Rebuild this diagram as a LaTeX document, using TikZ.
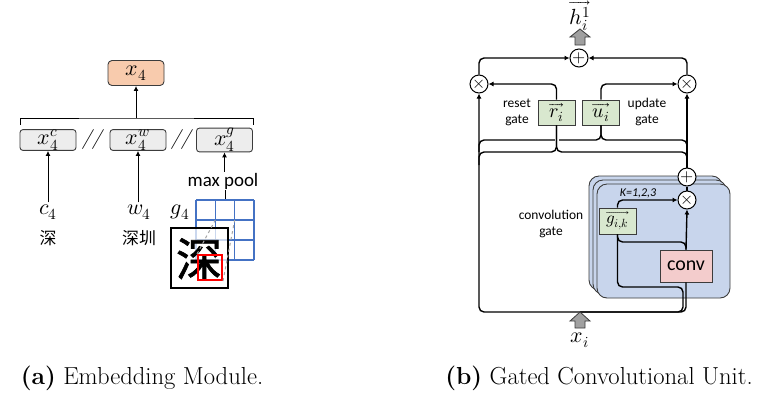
\documentclass[tikz,border=0pt]{standalone}
\usepackage{fontspec}
\usepackage{unicode-math}
\setmathfont{Latin Modern Math}
\setsansfont{Carlito}
\newfontfamily\cjk{Noto Sans CJK SC}
\newfontfamily\cjkheavy[FakeBold=1.5]{Noto Sans CJK SC}
\usetikzlibrary{arrows.meta,calc}

\definecolor{orangefill}{RGB}{248,203,173}
\definecolor{grayfill}{RGB}{237,237,237}
\definecolor{gridblue}{RGB}{68,114,196}
\definecolor{greenfill}{RGB}{217,232,207}
\definecolor{bluefill}{RGB}{200,213,236}
\definecolor{pinkfill}{RGB}{243,204,204}
\definecolor{edge}{RGB}{60,60,60}
\definecolor{blockgray}{RGB}{160,160,160}

\begin{document}
\begin{tikzpicture}[x=1bp,y=-1bp,
  wire/.style={line width=1.4bp, draw=black, rounded corners=5bp},
  arr/.style={wire, -{Latex[length=5bp,width=5bp]}},
  thin/.style={line width=1bp, draw=black},
  thinarr/.style={thin, -{Latex[length=5bp,width=5bp]}},
  mfont/.style={font=\fontsize{22}{25}\selectfont},
  sfont/.style={font=\sffamily\fontsize{13.5}{16}\selectfont, align=center, inner sep=0pt},
  cell/.style={draw=edge, line width=0.9bp, rounded corners=3bp, inner sep=0pt, mfont},
  emb/.style={cell, fill=grayfill, minimum width=56bp, minimum height=20bp},
  gatebox/.style={cell, fill=greenfill, rounded corners=0pt, minimum width=37bp, minimum height=25bp, font=\fontsize{20}{22}\selectfont},
  op/.style={circle, draw=black, line width=1bp, fill=white, minimum size=18bp, inner sep=0pt, font=\fontsize{17}{19}\selectfont},
  layer/.style={draw=edge, line width=0.9bp, fill=bluefill, rounded corners=10bp},
  blockarrow/.style={fill=blockgray, draw=edge, line width=0.8bp},
  gridline/.style={draw=gridblue, line width=1.5bp},
  caption/.style={font=\fontsize{24.7}{28}\selectfont, inner sep=0pt}
]
\useasboundingbox (0,0) rectangle (766,398);

% ---------------- (a) embedding module ----------------
\node[cell, fill=orangefill, minimum width=56bp, minimum height=25bp, rounded corners=4bp] (x4) at (136,73) {$x_4$};
\node[emb] (xc) at (48,140) {$x_4^c$};
\node[emb] (xw) at (138,140) {$x_4^w$};
\node[emb] (xg) at (224.5,140) {$x_4^g$};
\node[font=\fontsize{20}{22}\selectfont, inner sep=0pt] (sl1) at (93,140) {\textit{//}};
\node[font=\fontsize{20}{22}\selectfont, inner sep=0pt] (sl2) at (182,140) {\textit{//}};

% concatenation bracket
\coordinate (brk) at (136,118);
\coordinate (bl) at (20,125);
\coordinate (br) at (253,125);
\draw[thin] (bl) |- (brk) -| (br);
\draw[thinarr] (brk) -- (x4.south);

% character, word and glyph inputs
\node[mfont, inner sep=2bp] (c4) at (48,212) {$c_4$};
\node[font=\cjk\fontsize{17}{20}\selectfont, inner sep=0pt] (c4z) at (48,238) {深};
\node[mfont, inner sep=2bp] (w4) at (139,212) {$w_4$};
\node[font=\cjk\fontsize{17}{20}\selectfont, inner sep=0pt] (w4z) at (139,238) {深圳};
\draw[thinarr] (c4.north -| xc.south) -- (xc.south);
\draw[thinarr] (w4.north -| xw.south) -- (xw.south);

\node[font=\sffamily\fontsize{19}{22}\selectfont, inner sep=1pt] (mp) at (223,181) {max pool};
\draw[thinarr] (mp.north -| xg.south) -- (xg.south);
\coordinate (gtop) at (225,200);
\draw[thin] (gtop) -- (gtop |- mp.south);

% feature map grid
\foreach \i in {0,1,2,3} {
  \draw[gridline] (196+\i*19.33,200) -- ++(0,60);
  \draw[gridline] (196,200+\i*20) -- ++(58,0);
}
\node[mfont, inner sep=0pt] (g4) at (180,212) {$g_4$};

% glyph image with its sliding window
\node[draw=black, line width=1.2bp, fill=white, fill opacity=0.72, minimum width=57bp, minimum height=60bp, inner sep=0pt] (img) at (199.5,258) {};
\node[font=\cjkheavy\fontsize{46}{50}\selectfont, inner sep=0pt] (bigz) at (199,259) {深};
\node[draw=red, line width=2bp, minimum width=24bp, minimum height=25bp, inner sep=0pt] (crop) at (210,267.5) {};
\coordinate (cellnw) at (215.3,220);
\coordinate (cellne) at (234.7,220);
\draw[dashed, draw=gray!70, line width=1bp] (crop.north west) -- (cellnw);
\draw[dashed, draw=gray!70, line width=1bp] (crop.south east) -- (cellne);

\node[caption] (capa) at (142,378) {\textbf{(a)} Embedding Module.};

% ---------------- (b) gated convolutional unit ----------------
% stacked convolution layers
\draw[layer] (589,176) rectangle (722,290);
\draw[layer] (593,180) rectangle (726,294);
\draw[layer] (597,184) rectangle (730,298);

\node[mfont, inner sep=0pt] (hout) at (580,16) {$\overrightarrow{h_i^1}$};
\node[op] (plusTop) at (579,58) {$+$};
\node[op] (mulL) at (479,84) {$\times$};
\node[op] (mulR) at (687,84) {$\times$};
\node[gatebox] (r) at (556.5,112.5) {$\overrightarrow{r_i}$};
\node[gatebox] (u) at (601,112.5) {$\overrightarrow{u_i}$};
\node[sfont] (rlab) at (517,112) {reset\\gate};
\node[sfont] (ulab) at (647,112) {update\\gate};

\node[op] (plusIn) at (687,177) {$+$};
\node[op] (mulIn) at (687,200) {$\times$};
\node[gatebox, minimum height=26bp, font=\fontsize{17}{19}\selectfont] (g) at (617.5,221) {$\overrightarrow{g_{i,k}}$};
\node[cell, fill=pinkfill, rounded corners=0pt, minimum width=52bp, minimum height=32bp, font=\sffamily\fontsize{20}{22}\selectfont] (conv) at (686,266) {conv};
\node[font=\sffamily\itshape\fontsize{12}{14}\selectfont, inner sep=0pt] (klab) at (638,193) {K=1,2,3};
\node[sfont, font=\sffamily\fontsize{13.5}{17}\selectfont] (clab) at (551,224) {convolution\\gate};

\node[mfont, inner sep=0pt] (xin) at (580,340) {$x_i$};
\coordinate (bus) at (580,312);
\coordinate (htip) at (580,29);

% output block arrow
\filldraw[blockarrow] (htip) -- ++(10,8) -- ++(-5,0) -- ++(0,8) -- ++(-10,0) -- ++(0,-8) -- ++(-5,0) -- cycle;

% gate branches into the output sum
\draw[arr] (mulL.north) |- (plusTop.west);
\draw[arr] (mulR.north) |- (plusTop.east);
\draw[arr] (r.north) |- (mulL.east);
\draw[arr] (u.north) |- (mulR.west);

% input bus and its two risers
\draw[arr] (conv.south) |- (bus) -| (mulL.south);
\coordinate (gloop) at (683,287);
\draw[wire] (g.south) |- (gloop) |- (bus);
\coordinate (gjoin) at (686,242);
\draw[wire] (g.south) |- (gjoin) -- (conv.north);
\draw[arr] (conv.north) -- (mulIn.south);
\draw[arr] (g.north) |- (mulIn.west);
\draw[wire] (mulIn.north) -- (plusIn.south);
\draw[arr] (plusIn.north) -- (mulR.south);

% inputs of the update and reset gates
\coordinate (ubr) at (601,140);
\coordinate (rbr) at (556.5,152);
\coordinate (ulL) at (479,152);
\coordinate (ulR) at (687,152);
\coordinate (rlL) at (479,165);
\coordinate (rlR) at (687,165);
\draw[wire] (ulL) |- (ubr) -- (u.south);
\draw[wire] (ulR) |- (ubr) -- (u.south);
\draw[line width=4bp, draw=white] ($(r.south)+(0,9)$) -- ($(r.south)+(0,22)$);
\draw[wire] (rlL) |- (rbr) -- (r.south);
\draw[wire] (rlR) |- (rbr) -- (r.south);

% input block arrow
\filldraw[blockarrow] (bus) -- ++(10,9) -- ++(-5,0) -- ++(0,7) -- ++(-10,0) -- ++(0,-7) -- ++(-5,0) -- cycle;

\node[caption] (capb) at (599,378) {\textbf{(b)} Gated Convolutional Unit.};
\end{tikzpicture}
\end{document}
